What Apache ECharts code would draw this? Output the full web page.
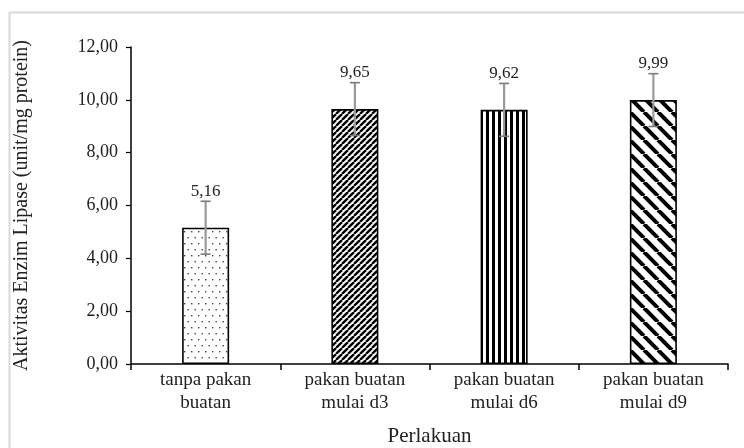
<!DOCTYPE html>
<html><head><meta charset="utf-8">
<script src="https://cdn.jsdelivr.net/npm/echarts@6/dist/echarts.min.js"></script>
<style>html,body{margin:0;padding:0;background:#fff}#c{width:744px;height:448px}</style>
</head><body><div id="c"></div>
<script>
const categories = ['tanpa pakan\nbuatan', 'pakan buatan\nmulai d3', 'pakan buatan\nmulai d6', 'pakan buatan\nmulai d9'];
const values = [5.16, 9.65, 9.62, 9.99];
const errors = [1.0, 1.0, 1.0, 1.0];
const valueLabels = ['5,16', '9,65', '9,62', '9,99'];
const yMin = 0, yMax = 12, yStep = 2;
const xTitle = 'Perlakuan';
const yTitle = 'Aktivitas Enzim Lipase (unit/mg protein)';

const FONT = '"Liberation Serif", "DejaVu Serif", serif';

function tile(w, h, draw) {
  const c = document.createElement('canvas');
  c.width = w; c.height = h;
  const g = c.getContext('2d');
  g.fillStyle = '#fff'; g.fillRect(0, 0, w, h);
  draw(g, w, h);
  return c;
}
const patDots = tile(14, 12, (g) => {
  g.fillStyle = '#444';
  [[2,3],[9,3],[5.5,9],[12.5,9]].forEach(p => { g.fillRect(p[0], p[1], 1.4, 1.4); });
});
const patFwd = tile(6, 6, (g, w, h) => {
  g.strokeStyle = '#000'; g.lineWidth = 2.4;
  [[-w,0],[0,0],[w,0]].forEach(o => { g.beginPath(); g.moveTo(o[0], h); g.lineTo(o[0] + w, 0); g.stroke(); });
});
const patVert = tile(6, 4, (g) => {
  g.fillStyle = '#000'; g.fillRect(0, 0, 3, 4);
});
const patBack = tile(14, 14, (g, w, h) => {
  g.strokeStyle = '#000'; g.lineWidth = 4;
  [[-w,0],[0,0],[w,0]].forEach(o => { g.beginPath(); g.moveTo(o[0], 0); g.lineTo(o[0] + w, h); g.stroke(); });
});
const patterns = [patDots, patFwd, patVert, patBack];

const fmt = v => v.toFixed(2).replace('.', ',');

const chart = echarts.init(document.getElementById('c'), null, {renderer: 'canvas'});
chart.setOption({
  animation: false,
  backgroundColor: '#fff',
  grid: {left: 131, right: 16, top: 47, bottom: 84, containLabel: false, outerBoundsMode: 'none'},
  graphic: [
    {type: 'line', shape: {x1: 9, y1: 12.5, x2: 744, y2: 12.5}, style: {stroke: '#d9d9d9', lineWidth: 2}, z: -1},
    {type: 'line', shape: {x1: 9.5, y1: 12, x2: 9.5, y2: 448}, style: {stroke: '#d9d9d9', lineWidth: 2}, z: -1}
  ],
  xAxis: {
    type: 'category',
    data: categories,
    boundaryGap: true,
    name: xTitle,
    nameLocation: 'middle',
    nameGap: 62,
    nameTextStyle: {fontFamily: FONT, fontSize: 21, color: '#222'},
    axisLine: {lineStyle: {color: '#000', width: 1.5}},
    axisTick: {show: true, length: 6, lineStyle: {color: '#000', width: 1.5}},
    axisLabel: {fontFamily: FONT, fontSize: 19, color: '#222', lineHeight: 23, margin: 5}
  },
  yAxis: {
    type: 'value',
    min: yMin, max: yMax, interval: yStep,
    name: yTitle,
    nameLocation: 'middle',
    nameGap: 99,
    nameTextStyle: {fontFamily: FONT, fontSize: 20, color: '#222'},
    axisLine: {show: true, lineStyle: {color: '#000', width: 1.5}},
    axisTick: {show: true, length: 5, lineStyle: {color: '#000', width: 1.2}},
    splitLine: {show: false},
    axisLabel: {fontFamily: FONT, fontSize: 18, color: '#222', margin: 13, formatter: fmt}
  },
  series: [
    {
      type: 'bar',
      barWidth: '31.5%',
      data: values.map((v, i) => ({
        value: v,
        itemStyle: {color: {image: patterns[i], repeat: 'repeat'}, borderColor: '#000', borderWidth: 1.6}
      }))
    },
    {
      type: 'custom',
      data: values.map((v, i) => [i, v, errors[i], valueLabels[i]]),
      z: 5,
      renderItem: function (params, api) {
        const i = api.value(0), v = api.value(1), e = api.value(2);
        const top = api.coord([i, v + e]);
        const bot = api.coord([i, v - e]);
        const cap = 5;
        return {
          type: 'group',
          children: [
            {type: 'line', shape: {x1: top[0], y1: top[1], x2: bot[0], y2: bot[1]}, style: {stroke: '#9a9a9a', lineWidth: 2.2}},
            {type: 'line', shape: {x1: top[0] - cap, y1: top[1], x2: top[0] + cap, y2: top[1]}, style: {stroke: '#7a7a7a', lineWidth: 1.6}},
            {type: 'line', shape: {x1: bot[0] - cap, y1: bot[1], x2: bot[0] + cap, y2: bot[1]}, style: {stroke: '#7a7a7a', lineWidth: 1.6}},
            {type: 'text', x: top[0], y: top[1] - 10, style: {text: valueLabels[i], fontFamily: FONT, fontSize: 17, fill: '#222', align: 'center', verticalAlign: 'middle'}}
          ]
        };
      }
    }
  ]
});
</script></body></html>
